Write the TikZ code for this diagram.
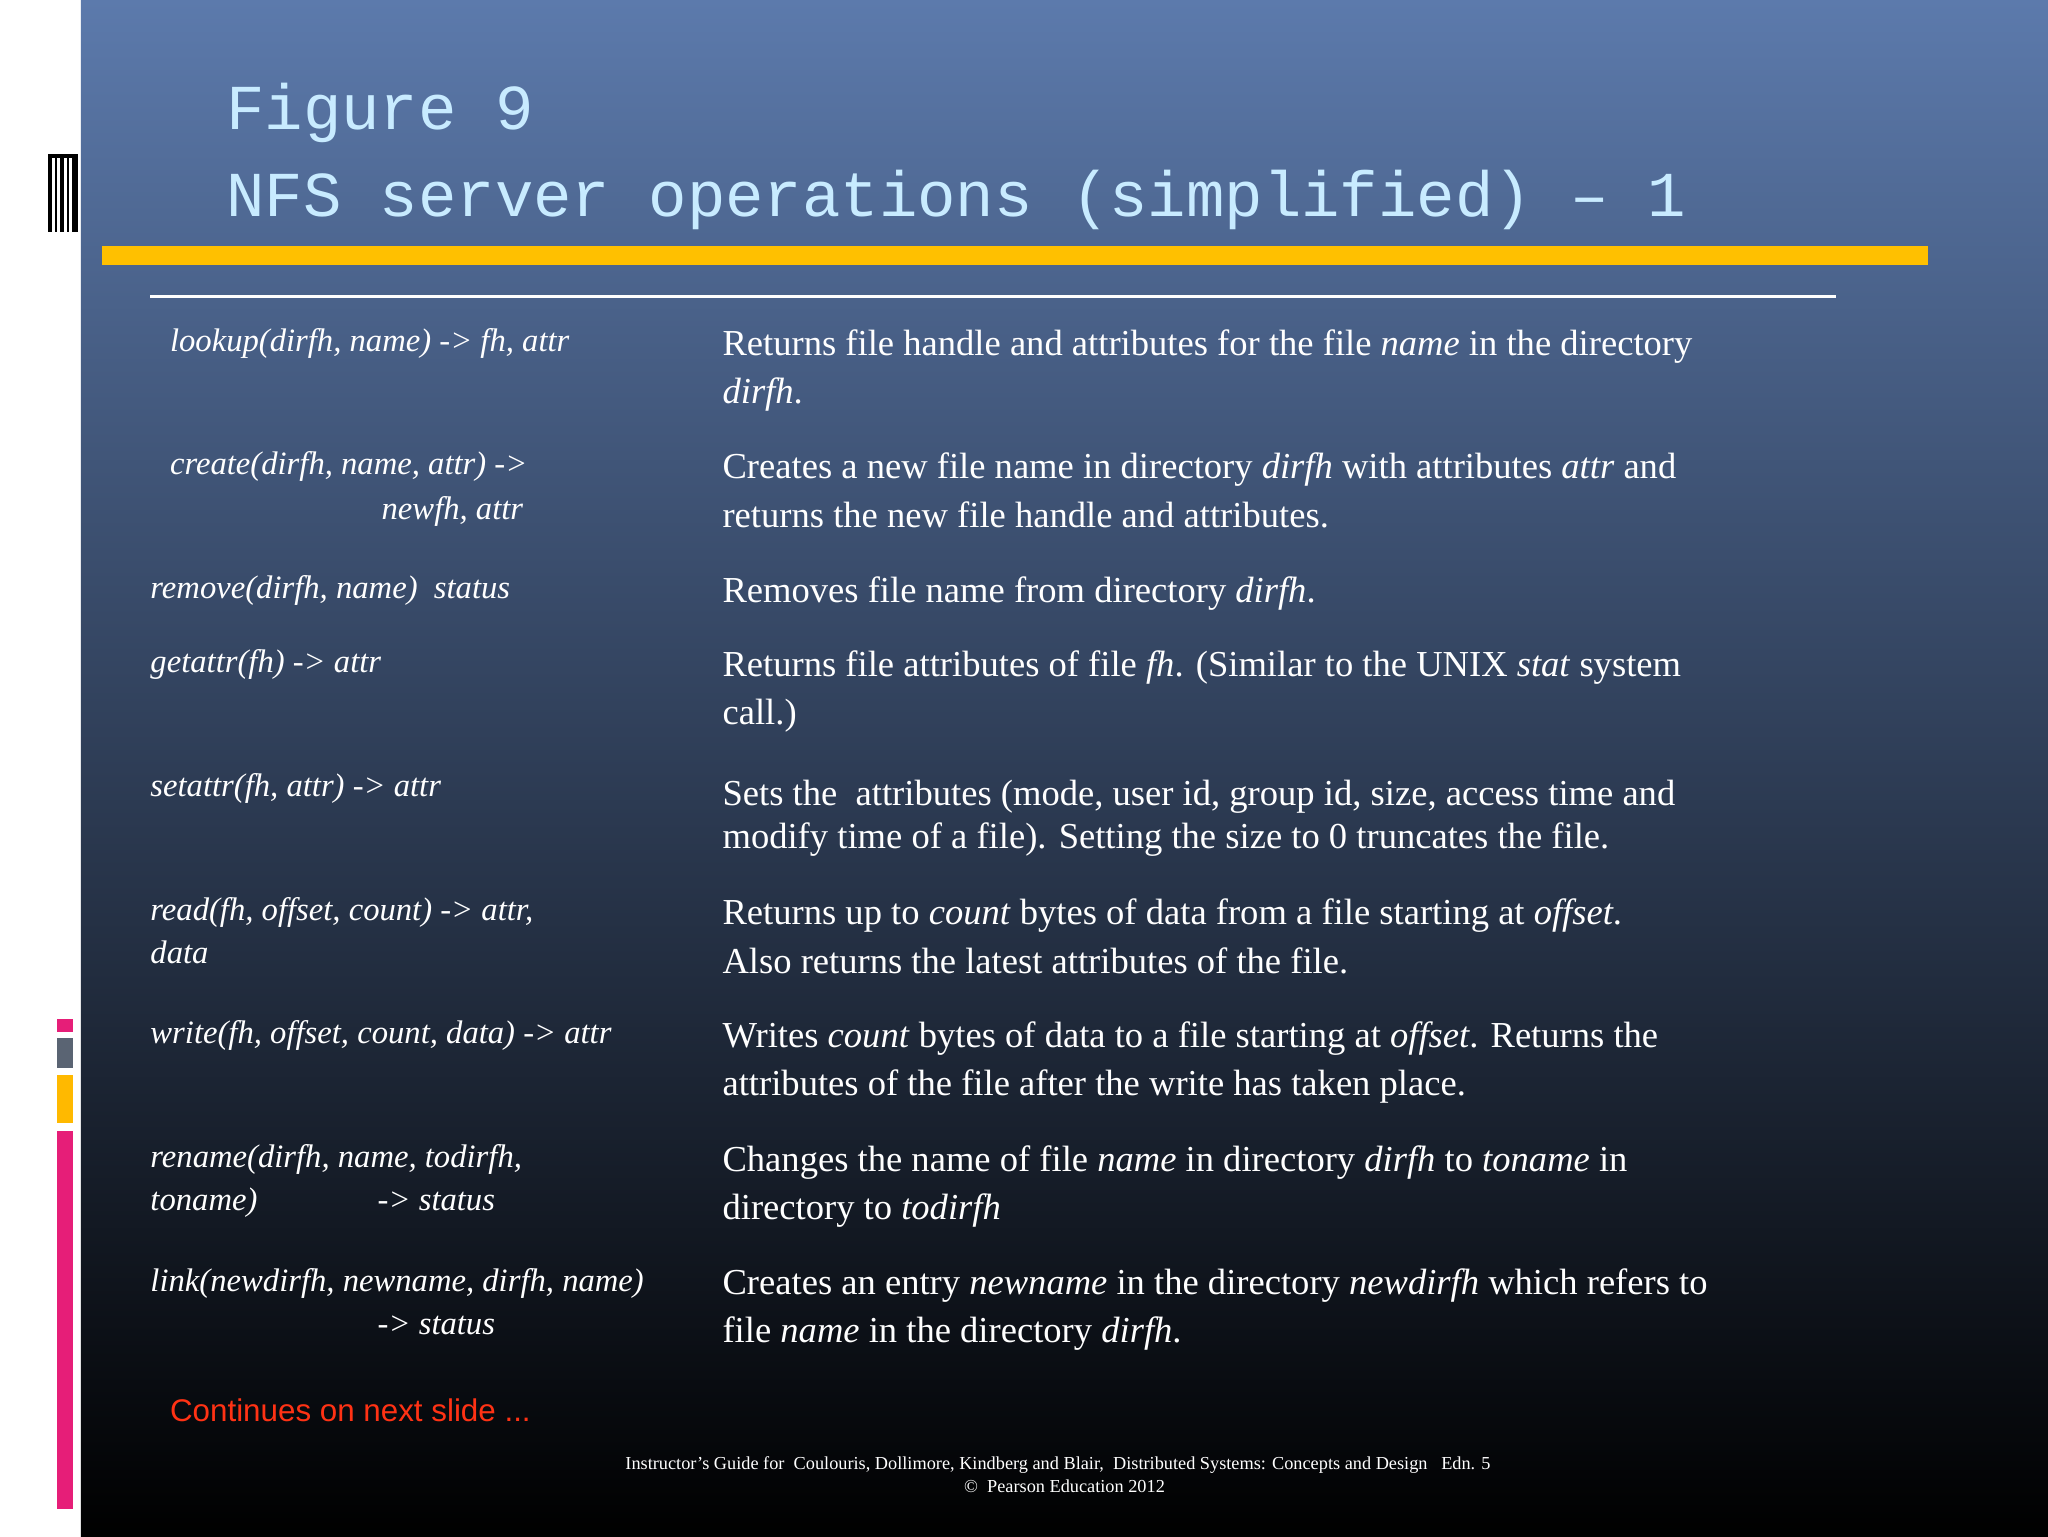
\documentclass[tikz,border=0pt]{standalone}
\usepackage{fontspec}
\setmainfont{Liberation Serif}
\setsansfont{Liberation Sans}
\setmonofont{Liberation Mono}
\definecolor{bgtop}{RGB}{92,122,172}
\definecolor{bgmid}{RGB}{36,52,82}
\definecolor{pinkc}{RGB}{230,30,120}
\definecolor{grayc}{RGB}{90,100,115}
\definecolor{yelc}{RGB}{255,185,0}
\definecolor{barc}{RGB}{255,192,0}
\definecolor{titlec}{RGB}{200,235,255}
\definecolor{contc}{RGB}{255,50,20}
\begin{document}
\begin{tikzpicture}[x=1pt,y=-1pt,
  rt/.style={anchor=base west,inner sep=0pt,text=white,font=\fontsize{28}{34}\selectfont},
  lt/.style={anchor=base west,inner sep=0pt,text=white,font=\fontsize{25}{30}\selectfont\itshape},
  ft/.style={anchor=base,inner sep=0pt,text=white,font=\fontsize{14}{17}\selectfont},
  tt/.style={anchor=base west,inner sep=0pt,text=titlec,font=\fontsize{49}{58}\ttfamily}]
\useasboundingbox (0,0) rectangle (1568,1176);
\fill[white] (0,0) rectangle (62,1176);
\shade[top color=bgtop,middle color=bgmid,bottom color=black] (62,0) rectangle (1568,1176);
% left icon
\foreach \x/\w in {37/3,42/2,46/3,51/2,55/5}{\fill[black] (\x,118) rectangle ++(\w,60);}
\fill[black] (37,118) rectangle (60,121);
\fill[pinkc] (44,780) rectangle (56,790);
\fill[grayc] (44,795) rectangle (56,818);
\fill[yelc] (44,823) rectangle (56,860);
\fill[pinkc] (44,866) rectangle (56,1155);
% title
\node[tt] (t1) at (173,99) {Figure 9};
\node[tt] (t2) at (173,166) {NFS server operations (simplified) – 1};
\fill[barc] (78,188) rectangle (1476,203);
\draw[white,line width=3pt] (115,227) -- (1406,227);
% left column
\node[lt] (l1) at (130,269) {lookup(dirfh, name) -> fh, attr};
\node[lt] (l2) at (130,363) {create(dirfh, name, attr) ->};
\node[lt] (l2b) at (292,398) {newfh, attr};
\node[lt] (l3) at (115,458) {remove(dirfh, name)\ \ status};
\node[lt] (l4) at (115,515) {getattr(fh) -> attr};
\node[lt] (l5) at (115,610) {setattr(fh, attr) -> attr};
\node[lt] (l6) at (115,705) {read(fh, offset, count) -> attr,};
\node[lt] (l6b) at (115,738) {data};
\node[lt] (l7) at (115,799) {write(fh, offset, count, data) -> attr};
\node[lt] (l8) at (115,894) {rename(dirfh, name, todirfh,};
\node[lt] (l8b) at (115,927) {toname)};
\node[lt] (l8c) at (289,927) {-> status};
\node[lt] (l9) at (115,989) {link(newdirfh, newname, dirfh, name)};
\node[lt] (l9b) at (289,1022) {-> status};
% right column
\node[rt] (r1) at (553,272) {Returns file handle and attributes for the file \emph{name} in the directory};
\node[rt] (r1b) at (553,309) {\emph{dirfh}.};
\node[rt] (r2) at (553,366) {Creates a new file name in directory \emph{dirfh} with attributes \emph{attr} and};
\node[rt] (r2b) at (553,404) {returns the new file handle and attributes.};
\node[rt] (r3) at (553,461) {Removes file name from directory \emph{dirfh}.};
\node[rt] (r4) at (553,518) {Returns file attributes of file \emph{fh}. (Similar to the UNIX \emph{stat} system};
\node[rt] (r4b) at (553,555) {call.)};
\node[rt] (r5) at (553,617) {Sets the\ \ attributes (mode, user id, group id, size, access time and};
\node[rt] (r5b) at (553,650) {modify time of a file). Setting the size to 0 truncates the file.};
\node[rt] (r6) at (553,708) {Returns up to \emph{count} bytes of data from a file starting at \emph{offset}.};
\node[rt] (r6b) at (553,745) {Also returns the latest attributes of the file.};
\node[rt] (r7) at (553,802) {Writes \emph{count} bytes of data to a file starting at \emph{offset}. Returns the};
\node[rt] (r7b) at (553,839) {attributes of the file after the write has taken place.};
\node[rt] (r8) at (553,897) {Changes the name of file \emph{name} in directory \emph{dirfh} to \emph{toname} in};
\node[rt] (r8b) at (553,934) {directory to \emph{todirfh}};
\node[rt] (r9) at (553,991) {Creates an entry \emph{newname} in the directory \emph{newdirfh} which refers to};
\node[rt] (r9b) at (553,1028) {file \emph{name} in the directory \emph{dirfh}.};
% footer
\node[anchor=base west,inner sep=0pt,text=contc,font=\fontsize{24}{29}\sffamily] (cont) at (130,1088) {Continues on next slide ...};
\node[ft] (f1) at (810,1125) {Instructor’s Guide for\ \ Coulouris, Dollimore, Kindberg and Blair,\ \ Distributed Systems: Concepts and Design\ \ \ Edn. 5};
\node[ft] (f2) at (815,1143) {©\ \ Pearson Education 2012};
\end{tikzpicture}
\end{document}
